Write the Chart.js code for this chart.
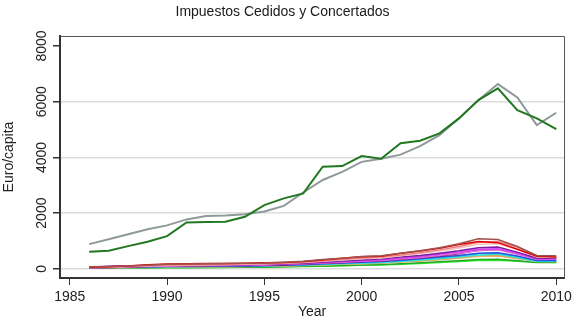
<!DOCTYPE html>
<html>
<head>
<meta charset="utf-8">
<script src="https://cdn.jsdelivr.net/npm/chart.js@4"></script>
<style>
  body { margin: 0; background: #fff; }
  #wrap { width: 576px; height: 329px; }
</style>
</head>
<body>
<div id="wrap"><canvas id="myChart" width="576" height="329"></canvas></div>
<script>
// years on the x axis
const years = [1986, 1987, 1988, 1989, 1990, 1991, 1992, 1993, 1994, 1995, 1996, 1997, 1998,
  1999, 2000, 2001, 2002, 2003, 2004, 2005, 2006, 2007, 2008, 2009, 2010];
const xTicks = [1985, 1990, 1995, 2000, 2005, 2010];
const yTicks = [0, 2000, 4000, 6000, 8000];

// the two big lines (concertado)
const greenValues = [610, 650, 815, 970, 1175, 1667, 1680, 1690, 1868, 2288, 2529, 2708, 3664,
  3689, 4048, 3951, 4510, 4598, 4864, 5402, 6060, 6480, 5700, 5402, 5018];
const greyValues = [887, 1060, 1240, 1420, 1560, 1774, 1893, 1910, 1960, 2060, 2260, 2740, 3190,
  3480, 3840, 3950, 4100, 4407, 4802, 5402, 6050, 6634, 6157, 5162, 5603];

// the bundle of small lines near zero
const smallValues = [
  [70, 80, 100, 130, 160, 170, 180, 190, 200, 210, 240, 270, 330, 380, 440, 470, 560, 650, 760, 900, 1080, 1050, 800, 480, 470],
  [60, 75, 100, 150, 170, 180, 190, 190, 200, 215, 230, 260, 320, 380, 430, 450, 560, 640, 740, 870, 980, 940, 700, 450, 420],
  [55, 65, 90, 120, 140, 150, 160, 170, 180, 190, 210, 240, 290, 340, 390, 420, 500, 580, 680, 800, 950, 980, 780, 460, 440],
  [50, 60, 80, 100, 120, 130, 140, 150, 160, 170, 200, 230, 270, 320, 360, 390, 470, 550, 640, 750, 880, 900, 700, 420, 410],
  [60, 90, 110, 120, 130, 135, 140, 145, 150, 160, 180, 200, 240, 280, 320, 350, 420, 480, 560, 650, 760, 780, 600, 380, 380],
  [50, 70, 100, 110, 120, 125, 130, 135, 140, 150, 170, 190, 220, 260, 290, 320, 380, 440, 520, 600, 700, 720, 560, 360, 350],
  [45, 55, 70, 85, 100, 110, 115, 120, 130, 140, 160, 180, 210, 240, 270, 300, 350, 410, 480, 560, 650, 680, 520, 340, 340],
  [40, 50, 65, 80, 95, 100, 110, 115, 120, 130, 150, 170, 200, 230, 260, 290, 340, 400, 460, 540, 680, 700, 560, 380, 400],
  [35, 45, 55, 65, 80, 85, 90, 95, 100, 110, 130, 150, 180, 210, 240, 260, 310, 360, 420, 480, 560, 580, 460, 300, 300],
  [70, 75, 80, 85, 90, 92, 95, 100, 105, 115, 130, 150, 170, 200, 230, 250, 300, 350, 400, 460, 540, 560, 440, 290, 280],
  [40, 45, 50, 60, 70, 75, 80, 85, 90, 100, 115, 130, 155, 180, 200, 220, 260, 310, 360, 420, 490, 520, 400, 270, 270],
  [30, 40, 50, 60, 70, 75, 80, 85, 90, 95, 110, 125, 150, 170, 190, 210, 250, 290, 340, 400, 470, 480, 380, 300, 290],
  [30, 35, 45, 55, 60, 65, 70, 75, 80, 90, 105, 120, 140, 160, 180, 200, 240, 280, 320, 380, 440, 460, 360, 260, 260],
  [25, 28, 32, 38, 45, 48, 50, 55, 60, 65, 75, 90, 105, 120, 140, 155, 185, 215, 250, 290, 330, 340, 290, 230, 230],
  [20, 25, 30, 35, 40, 42, 45, 50, 55, 60, 70, 80, 95, 110, 125, 140, 165, 195, 225, 260, 300, 310, 270, 240, 240]
];
const smallColors = ['#a0524d', '#e00000', '#f08080', '#f2c4bc', '#7b1fa2', '#e040fb', '#da70d6', '#8b0a50',
  '#3050e0', '#00dde8', '#40e0d0', '#ff9933', '#d8c8a0', '#22aa22', '#33ee33'];

const fontFamily = '"Liberation Sans", Arial, sans-serif';
const toPoints = vals => vals.map((v, i) => ({ x: years[i], y: v }));

const datasets = [
  { data: toPoints(greenValues), borderColor: '#217821', borderWidth: 2 },
  { data: toPoints(greyValues), borderColor: '#8e9a9a', borderWidth: 2 }
];
smallValues.forEach((vals, i) => {
  datasets.push({ data: toPoints(vals), borderColor: smallColors[i], borderWidth: 1.5 });
});

// box around the plot and vertical y tick labels, like the R original
const frame = {
  id: 'frame',
  afterDraw(chart) {
    const { ctx, chartArea: a, scales: { y } } = chart;
    ctx.save();
    ctx.strokeStyle = '#555';
    ctx.lineWidth = 1;
    ctx.beginPath();
    ctx.moveTo(a.left, a.top + 0.5);
    ctx.lineTo(a.right + 0.5, a.top + 0.5);
    ctx.lineTo(a.right + 0.5, a.bottom);
    ctx.stroke();
    ctx.fillStyle = '#222';
    ctx.font = '14px ' + fontFamily;
    ctx.textAlign = 'center';
    ctx.textBaseline = 'alphabetic';
    yTicks.forEach(v => {
      ctx.save();
      ctx.translate(46, y.getPixelForValue(v));
      ctx.rotate(-Math.PI / 2);
      ctx.fillText(String(v), 0, 0);
      ctx.restore();
    });
    ctx.restore();
  }
};

new Chart(document.getElementById('myChart'), {
  type: 'line',
  data: { datasets: datasets },
  options: {
    responsive: false,
    animation: false,
    layout: { padding: { left: 0, right: 11, top: 0, bottom: 0 } },
    elements: { point: { radius: 0 }, line: { tension: 0 } },
    plugins: {
      legend: { display: false },
      tooltip: { enabled: false },
      title: {
        display: true,
        text: 'Impuestos Cedidos y Concertados',
        color: '#1a1a1a',
        font: { family: fontFamily, size: 14, weight: 'normal' },
        padding: { top: 4, bottom: 15.2 }
      }
    },
    scales: {
      x: {
        type: 'linear',
        min: 1984.5,
        max: 2010.4,
        afterBuildTicks: s => { s.ticks = xTicks.map(v => ({ value: v })); },
        afterFit: s => { s.height = 51; },
        grid: { drawOnChartArea: false, drawTicks: true, tickLength: 7, tickColor: '#333' },
        border: { color: '#333', width: 2 },
        ticks: {
          padding: 4,
          color: '#222',
          font: { family: fontFamily, size: 14 },
          maxRotation: 0,
          callback: v => String(v)
        },
        title: {
          display: true,
          text: 'Year',
          color: '#222',
          font: { family: fontFamily, size: 14 },
          padding: { top: 0, bottom: 8.6 }
        }
      },
      y: {
        min: -330,
        max: 8360,
        afterBuildTicks: s => { s.ticks = yTicks.map(v => ({ value: v })); },
        afterFit: s => { s.width = 60; },
        grid: {
          color: c => (c.tick && c.tick.value === 8000 ? 'rgba(0,0,0,0)' : '#dcdcdc'),
          lineWidth: 1.5,
          drawTicks: true,
          tickLength: 7,
          tickColor: '#333'
        },
        border: { color: '#333', width: 2 },
        ticks: { display: false },
        title: {
          display: true,
          text: 'Euro/capita',
          color: '#222',
          font: { family: fontFamily, size: 14 },
          padding: { top: 1, bottom: 0 }
        }
      }
    }
  },
  plugins: [frame]
});
</script>
</body>
</html>
